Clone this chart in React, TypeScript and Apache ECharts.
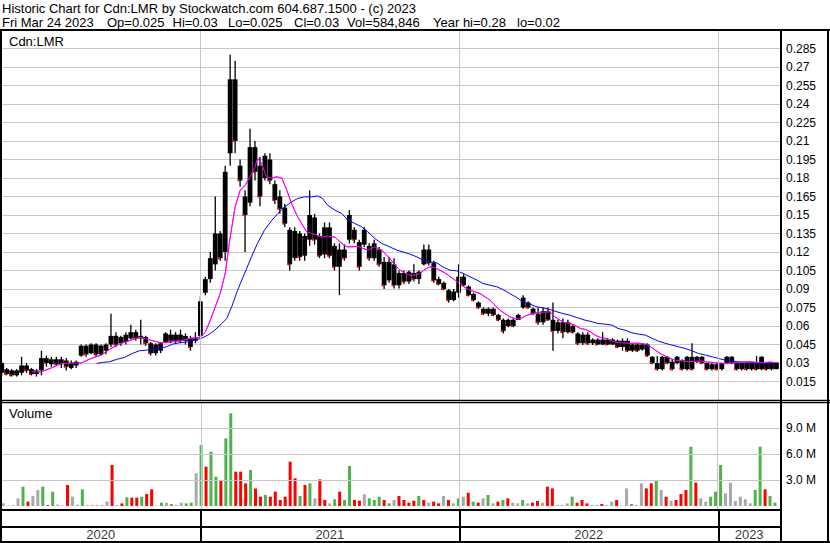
import React, { useEffect, useRef } from "react";
import * as echarts from "echarts";

const DAY = 86400000;
const FIRST_WEEK = Date.UTC(2020, 2, 27);
const X_MIN = Date.UTC(2020, 2, 26);
const X_MAX = Date.UTC(2023, 2, 29);
const FONT = '"Liberation Sans", Arial, sans-serif';

const titleLine = "Historic Chart for Cdn:LMR by Stockwatch.com 604.687.1500 - (c) 2023";
const quoteParts = ["Fri Mar 24 2023", "Op=0.025", "Hi=0.03", "Lo=0.025", "Cl=0.03", "Vol=584,846", "Year hi=0.28", "lo=0.02"];
const quotePartX = [2, 107, 172.5, 228, 294, 347, 433, 517];
const yearLabels = ["2020", "2021", "2022", "2023"];
const yearStarts = [Date.UTC(2021, 0, 1), Date.UTC(2022, 0, 1), Date.UTC(2023, 0, 1)];

// weekly OHLC (CAD)
const weekOpen = [
  .030, .025, .024, .020, .022, .028, .025, .021, .024, .034,
  .029, .033, .029, .032, .026, .028, .036, .044, .038, .045,
  .037, .040, .045, .052, .046, .047, .050, .055, .050, .051,
  .046, .038, .040, .047, .053, .048, .053, .048, .050, .048,
  .052, .087, .098, .110, .135, .120, .200, .260, .190, .165,
  .160, .205, .190, .180, .195, .175, .165, .156, .138, .115,
  .135, .117, .130, .148, .133, .118, .140, .125, .108, .122,
  .130, .138, .128, .126, .125, .115, .122, .112, .097, .110,
  .093, .103, .096, .103, .098, .110, .122, .111, .098, .095,
  .089, .081, .087, .100, .092, .086, .079, .074, .070, .074,
  .069, .065, .060, .065, .065, .075, .079, .074, .070, .063,
  .072, .065, .056, .063, .055, .060, .054, .046, .053, .046,
  .049, .045, .049, .045, .048, .043, .048, .040, .045, .041,
  .045, .035, .030, .025, .035, .031, .030, .032, .025, .035,
  .031, .035, .030, .025, .029, .025, .030, .035, .030, .025,
  .030, .025, .030, .025, .030, .025, .025,
];
const weekHigh = [
  .031, .026, .025, .025, .035, .030, .026, .025, .040, .036,
  .035, .035, .035, .034, .032, .032, .045, .045, .046, .046,
  .045, .046, .070, .055, .052, .055, .061, .057, .065, .052,
  .047, .046, .047, .055, .057, .055, .057, .054, .052, .055,
  .084, .100, .120, .165, .137, .190, .280, .275, .195, .170,
  .220, .210, .197, .200, .200, .178, .170, .159, .140, .140,
  .137, .135, .170, .151, .135, .144, .144, .127, .127, .126,
  .154, .140, .130, .140, .127, .130, .124, .116, .116, .115,
  .105, .105, .105, .110, .105, .126, .126, .113, .100, .096,
  .090, .090, .110, .102, .093, .087, .080, .075, .075, .075,
  .070, .066, .066, .066, .070, .085, .080, .075, .075, .075,
  .075, .079, .065, .066, .065, .061, .055, .055, .055, .050,
  .050, .055, .050, .050, .049, .050, .050, .046, .046, .046,
  .046, .0356, .0356, .0356, .0356, .033, .0356, .033, .0356, .046,
  .0356, .0356, .030, .030, .030, .030, .0356, .0356, .030, .030,
  .030, .030, .0356, .0356, .030, .030, .030,
];
const weekLow = [
  .020, .020, .019, .019, .020, .022, .020, .019, .020, .027,
  .027, .028, .026, .024, .025, .026, .035, .035, .037, .035,
  .036, .037, .043, .043, .044, .045, .049, .048, .045, .044,
  .036, .036, .038, .046, .046, .046, .046, .045, .040, .046,
  .050, .085, .095, .105, .113, .113, .190, .200, .173, .120,
  .157, .178, .157, .178, .175, .159, .151, .140, .105, .113,
  .113, .113, .125, .126, .115, .115, .115, .105, .085, .113,
  .127, .127, .105, .124, .113, .113, .108, .090, .095, .0905,
  .0905, .094, .094, .096, .094, .109, .109, .095, .093, .089,
  .079, .080, .083, .092, .084, .080, .074, .069, .068, .068,
  .064, .054, .059, .059, .065, .074, .074, .069, .061, .061,
  .064, .040, .054, .050, .054, .054, .0445, .0445, .0445, .0445,
  .0445, .0445, .0445, .0445, .042, .040, .039, .039, .039, .040,
  .035, .029, .024, .024, .029, .024, .029, .024, .024, .024,
  .030, .029, .024, .024, .024, .024, .029, .029, .024, .024,
  .024, .024, .024, .024, .024, .024, .025,
];
const weekClose = [
  .022, .021, .020, .024, .028, .024, .021, .024, .034, .030,
  .033, .029, .033, .027, .030, .031, .044, .037, .045, .037,
  .044, .045, .052, .045, .051, .053, .055, .050, .052, .046,
  .038, .045, .046, .054, .048, .053, .048, .052, .043, .050,
  .080, .098, .115, .135, .115, .185, .260, .210, .178, .150,
  .205, .185, .165, .198, .178, .162, .155, .143, .110, .137,
  .116, .133, .150, .130, .117, .140, .117, .108, .122, .115,
  .150, .130, .108, .138, .115, .127, .110, .093, .112, .093,
  .103, .096, .104, .098, .104, .122, .111, .097, .094, .090,
  .081, .088, .100, .093, .085, .081, .075, .070, .074, .069,
  .065, .056, .065, .060, .069, .083, .075, .070, .063, .072,
  .065, .056, .063, .055, .063, .055, .046, .053, .046, .049,
  .045, .049, .045, .049, .043, .048, .040, .045, .040, .045,
  .036, .030, .025, .035, .030, .025, .035, .025, .035, .025,
  .035, .030, .025, .029, .025, .030, .035, .030, .025, .030,
  .025, .030, .025, .035, .025, .030, .030,
];
// weekly peak daily volume, millions of shares
const weekVolume = [
  .30, .05, .05, .88, 2.23, .50, 1.15, 1.84, 2.23, .10,
  1.65, .15, .05, 2.42, 1.07, .15, 1.92, .05, .05, .05,
  .12, .50, 4.73, .12, .30, 1.00, .96, .96, 1.07, 1.38,
  1.92, .05, .38, .38, .23, .12, .38, .30, .38, 3.77,
  7.03, 4.53, 6.27, 3.38, 3.00, 7.80, 10.7, 3.96, 3.96, 2.61,
  4.15, 2.03, 1.07, 1.27, 1.07, 1.65, .69, 1.07, 5.11, 3.19,
  1.15, 2.42, 2.61, .88, 3.07, .69, .30, .77, 1.65, .69,
  4.61, .69, .61, 1.34, .88, .69, 1.07, .69, .30, .69,
  1.15, .69, .38, .61, 1.15, .69, .38, .50, .30, 1.15,
  .69, .30, .88, 1.07, 1.53, .50, .38, .88, 1.27, .30,
  .50, .69, .88, .38, .30, .69, .30, .38, .57, .38,
  2.23, 2.03, .12, .12, .30, 1.07, .38, .69, .30, .12,
  .12, .23, .12, .50, .69, .05, 2.03, .23, .05, 2.61,
  2.03, 2.61, 2.92, 1.84, 1.07, .61, .69, 1.38, 1.84, 6.84,
  2.69, .88, .50, 1.07, 1.65, 4.73, 1.46, 2.69, .57, 1.07,
  .77, .30, 1.84, 6.84, 1.92, 1.15, .38,
];
// 1 = up, -1 = down, 0 = unchanged
const weekVolumeDir = [
  0, 0, -1, 0, 1, -1, 0, 0, 1, -1,
  1, 0, 0, -1, 0, 0, 1, -1, -1, -1,
  0, 0, -1, 0, -1, 1, -1, -1, 1, -1,
  -1, 0, 1, 0, 1, 0, 0, 1, 1, 0,
  1, -1, 1, 1, -1, 1, 1, -1, -1, -1,
  1, -1, -1, 1, -1, -1, -1, -1, -1, -1,
  1, -1, 1, 0, -1, -1, 0, 1, -1, 1,
  1, -1, -1, 0, 1, 1, 1, -1, 1, 0,
  -1, -1, -1, -1, 1, -1, 0, -1, -1, 0,
  -1, 0, 1, 0, -1, 1, -1, 0, 1, 0,
  -1, 1, -1, 0, 0, 1, 0, -1, -1, 0,
  -1, -1, 0, 0, 0, 1, -1, -1, -1, 0,
  0, -1, 0, 0, -1, 0, 0, 1, -1, 0,
  -1, -1, 1, 0, -1, 0, -1, -1, -1, 1,
  -1, 0, 0, 1, 1, 1, 0, 0, 0, 0,
  0, 0, 1, 1, -1, 1, 1,
];
// short moving average (magenta): [week offset, value]
const maShort = [
  [6, .0228], [8, .023], [10, .026], [12, .0295], [14, .030], [16, .030], [18, .0337], [20, .0364],
  [22, .0418], [24, .046], [26, .0485], [27, .050], [28, .0507], [30, .0485], [32, .0464], [34, .047],
  [36, .048], [38, .050], [40, .051], [41, .055], [42, .0647], [43, .0755], [44, .0864], [45, .1026],
  [46, .132], [47, .1566], [48, .170], [49, .174], [50, .181], [51, .189], [51.5, .196], [52.3, .192],
  [53.3, .181], [54.4, .180], [55.4, .181], [56.4, .180], [57.4, .170], [58.4, .159], [59.4, .150],
  [60.4, .143], [61.4, .1364], [62.4, .135], [63.4, .1336], [64.4, .132], [65.6, .133], [67.1, .132],
  [68.5, .127], [69.5, .1242], [70.5, .1242], [71.7, .1247], [72.7, .123], [73.7, .1215], [75.1, .1242],
  [76.5, .1215], [77.5, .1175], [78.1, .115], [79.2, .1093], [80.2, .1053], [81.2, .1026], [82.2, .1012],
  [83.2, .1012], [84.2, .1026], [85.2, .1058], [86.2, .108], [87.2, .1074], [88.2, .1053], [89.2, .1031],
  [90.2, .1004], [91.3, .0972], [92.3, .0945], [93.3, .0912], [94.3, .089], [95.3, .0877], [96.3, .0864],
  [97.3, .0837], [98.3, .081], [99.3, .077], [100.3, .0728], [101.3, .0701], [102.3, .0674], [103.4, .066],
  [104.4, .0658], [105.4, .068], [106.4, .0696], [107.4, .0707], [108.4, .071], [110.4, .0715], [111.4, .0674],
  [112.4, .0647], [113.4, .0626], [114.4, .062], [115.4, .0607], [116.5, .058], [117.5, .0572], [118.5, .0553],
  [119.5, .0526], [120.5, .0507], [121.5, .050], [122.5, .0485], [123.5, .047], [124.5, .0464], [126.5, .046],
  [128.5, .046], [129.6, .0453], [130.6, .0432], [131.6, .0405], [132.6, .0377], [133.6, .0356], [134.6, .0337],
  [135.6, .0323], [136.6, .0318], [138.6, .031], [140.6, .0318], [141.6, .031], [143.7, .0302], [145.7, .0296],
  [147.7, .0302], [149.7, .0307], [150.7, .031], [152.7, .0302], [154.8, .0307], [156.2, .0302],
];
// long moving average (blue): [week offset, value]
const maLong = [
  [19.1, .0296], [20.3, .0305], [21.7, .031], [23.1, .0329], [24.7, .0345], [26.3, .0377], [27.7, .0399],
  [29.2, .0405], [30.4, .041], [31.8, .0418], [33.2, .0432], [34.4, .0453], [35.8, .0464], [37.2, .047],
  [38.8, .0485], [40.2, .050], [41.5, .0526], [42.9, .0566], [44.3, .062], [45.3, .066], [46.3, .0755],
  [47.5, .089], [48.9, .1026], [50.3, .1161], [51.5, .127], [52.9, .1377], [54.4, .1458], [55.6, .1512],
  [57, .1566], [58.4, .1607], [59.6, .1634], [61, .1647], [62.4, .1647], [63.6, .1655], [64.6, .1634],
  [65.6, .158], [67.1, .1539], [68.5, .1512], [69.7, .1458], [71.1, .1431], [72.5, .1404], [73.7, .1364],
  [75.1, .131], [76.5, .127], [78.1, .1242], [79.6, .1215], [80.8, .120], [82.2, .1183], [83.6, .116],
  [84.8, .1134], [86.2, .112], [87.6, .1112], [88.8, .108], [90.2, .1053], [91.6, .1047], [92.9, .1026],
  [94.3, .0999], [95.7, .0972], [96.9, .0945], [98.3, .0931], [99.7, .0918], [100.9, .0896], [102.3, .0864],
  [103.7, .0831], [104.9, .0796], [106.4, .0777], [107.8, .0755], [109, .0747], [110.4, .0734], [111.8, .0715],
  [113, .0701], [114.4, .0688], [115.8, .0669], [117.5, .0647], [118.9, .0634], [120.1, .062], [121.5, .0615],
  [122.9, .0607], [124.1, .058], [125.5, .0566], [126.9, .0545], [128.2, .0534], [129.6, .0526], [131, .050],
  [132.2, .0478], [133.6, .046], [135, .0445], [136.2, .0432], [137.6, .0418], [139, .0399], [140.3, .0377],
  [141.7, .0364], [143.1, .035], [144.3, .0337], [145.7, .0323], [147.1, .0315], [148.3, .031], [149.7, .0307],
  [151.1, .0305], [152.3, .0302], [153.7, .0302], [155.2, .0302], [156.4, .0302],
];
const volumeGridLevels = [3e6, 6e6, 9e6];

const weekTs = (w: number) => FIRST_WEEK + w * 7 * DAY;

function buildOption() {
  const ohlc = weekOpen.map((o, i) => [weekTs(i), o, weekHigh[i], weekLow[i], weekClose[i]]);
  const volData = weekVolume.map((v, i) => ({
    value: [weekTs(i), v * 1e6],
    itemStyle: { color: weekVolumeDir[i] > 0 ? "#4db34d" : weekVolumeDir[i] < 0 ? "#ff0000" : "#a9a9a9" },
  }));
  const bounds = [X_MIN, ...yearStarts, X_MAX];
  const yearMarks = yearLabels.map((y, i) => ({ value: [(bounds[i] + bounds[i + 1]) / 2, 0.234], name: y }));
  const grayLine = { color: "#c8c8c8", width: 1, type: "solid" };
  const line = (x1: number, y1: number, x2: number, y2: number, w: number) => ({
    type: "line", silent: true, z: 100,
    shape: { x1, y1, x2, y2 }, style: { stroke: "#000", lineWidth: w },
  });
  const txt = (text: string, x: number, y: number, size = 13) => ({
    type: "text", silent: true, z: 100, x, y,
    style: { text, font: `${size}px ${FONT}`, fill: "#000", verticalAlign: "middle", textVerticalAlign: "middle" },
  });

  return {
    animation: false,
    backgroundColor: "#fff",
    textStyle: { fontFamily: FONT },
    grid: [
      { left: 1, right: 50, top: 30, height: 370, outerBoundsMode: "none" },
      { left: 1, right: 50, top: 402, height: 107, outerBoundsMode: "none" },
      { left: 1, right: 50, top: 510, height: 32, outerBoundsMode: "none" },
    ],
    xAxis: [0, 1, 2].map((g) => ({
      type: "time", gridIndex: g, min: X_MIN, max: X_MAX, show: false,
      splitLine: { show: false },
    })),
    yAxis: [
      {
        type: "value", gridIndex: 0, position: "right", min: 0, max: 0.3, interval: 0.015,
        axisLine: { show: false }, axisTick: { show: false },
        axisLabel: {
          margin: 6, fontSize: 12, color: "#000", fontFamily: FONT,
          formatter: (v: number) => (v <= 0.0001 || v >= 0.2999 ? "" : String(Math.round(v * 1000) / 1000)),
        },
        splitLine: { show: true, lineStyle: grayLine },
      },
      {
        type: "value", gridIndex: 1, position: "right", min: -350000, max: 12e6, splitNumber: 4,
        axisLine: { show: false }, axisTick: { show: false }, splitLine: { show: false },
        axisLabel: {
          margin: 6, fontSize: 12, color: "#000", fontFamily: FONT,
          formatter: (v: number) => (volumeGridLevels.includes(Math.round(v)) ? (v / 1e6).toFixed(1) + " M" : ""),
        },
      },
      { type: "value", gridIndex: 2, min: 0, max: 1, show: false },
    ],
    series: [
      {
        type: "line", name: "MA short", xAxisIndex: 0, yAxisIndex: 0, silent: true, z: 1,
        data: maShort.map(([w, v]) => [weekTs(w), v]),
        symbol: "none", lineStyle: { color: "#ff00ff", width: 1 },
        markLine: {
          silent: true, symbol: ["none", "none"], label: { show: false }, lineStyle: grayLine,
          data: yearStarts.map((t) => ({ xAxis: t })),
        },
      },
      {
        type: "custom", name: "price", xAxisIndex: 0, yAxisIndex: 0, silent: true, z: 2,
        data: ohlc,
        encode: { x: 0, y: [1, 2, 3, 4] },
        renderItem: (_p: any, api: any) => {
          const t = api.value(0), o = api.value(1), h = api.value(2), l = api.value(3), c = api.value(4);
          const pH = api.coord([t, h]), pL = api.coord([t, l]);
          const pO = api.coord([t, o]), pC = api.coord([t, c]);
          const top = Math.min(pO[1], pC[1]);
          const hgt = Math.max(1.5, Math.abs(pO[1] - pC[1]));
          const children: any[] = [
            { type: "line", shape: { x1: pH[0], y1: pH[1], x2: pL[0], y2: pL[1] }, style: { stroke: "#000", lineWidth: 1.3 } },
            { type: "rect", shape: { x: pH[0] - 2.4, y: top, width: 4.8, height: hgt }, style: { fill: "#000" } },
          ];
          if (c < o) {
            children.push({ type: "rect", shape: { x: pC[0] - 2.5, y: pC[1] - 1, width: 2, height: 2 }, style: { fill: "#ff0000" } });
          }
          return { type: "group", children };
        },
      },
      {
        type: "line", name: "MA long", xAxisIndex: 0, yAxisIndex: 0, silent: true, z: 3,
        data: maLong.map(([w, v]) => [weekTs(w), v]),
        symbol: "none", lineStyle: { color: "#0000ff", width: 1 },
      },
      {
        type: "line", name: "MA short top", xAxisIndex: 0, yAxisIndex: 0, silent: true, z: 3,
        data: maShort.map(([w, v]) => [weekTs(w), v]),
        symbol: "none", lineStyle: { color: "#ff00ff", width: 1 },
      },
      {
        type: "bar", name: "Volume", xAxisIndex: 1, yAxisIndex: 1, silent: true,
        barWidth: 3, data: volData,
        markLine: {
          silent: true, symbol: ["none", "none"], label: { show: false }, lineStyle: grayLine,
          data: [
            ...yearStarts.map((t) => ({ xAxis: t })),
            ...volumeGridLevels.map((v) => ({ yAxis: v })),
          ],
        },
      },
      {
        type: "scatter", name: "years", xAxisIndex: 2, yAxisIndex: 2, silent: true,
        symbolSize: 1, itemStyle: { color: "rgba(0,0,0,0)" },
        data: yearMarks,
        label: {
          show: true, position: "inside", fontSize: 13, color: "#000", fontFamily: FONT,
          formatter: (p: any) => p.name,
        },
        markLine: {
          silent: true, symbol: ["none", "none"], label: { show: false },
          lineStyle: { color: "#000", width: 2, type: "solid" },
          data: yearStarts.map((t) => ({ xAxis: t })),
        },
      },
    ],
    graphic: [
      line(0, 30, 830, 30, 2),
      line(1, 29, 1, 543, 2),
      line(828, 29, 828, 543, 2),
      line(0, 542, 830, 542, 2),
      line(781, 29, 781, 543, 2),
      line(0, 400.5, 830, 400.5, 1.3),
      line(0, 402.7, 830, 402.7, 1.3),
      line(0, 510, 781, 510, 2),
      line(0, 527, 781, 527, 2),
      txt(titleLine, 2, 8),
      ...quoteParts.map((s, i) => txt(s, quotePartX[i], 22)),
      txt("Cdn:LMR", 9, 41.5),
      txt("Volume", 9, 413),
    ],
  };
}

export default function App() {
  const ref = useRef<HTMLDivElement>(null);
  useEffect(() => {
    const chart = echarts.init(ref.current as HTMLDivElement, null, { renderer: "svg" });
    chart.setOption(buildOption() as any);
    return () => chart.dispose();
  }, []);
  return (
    <div
      ref={ref}
      style={{ position: "fixed", left: 0, top: 0, width: 830, height: 543, background: "#fff" }}
    />
  );
}
